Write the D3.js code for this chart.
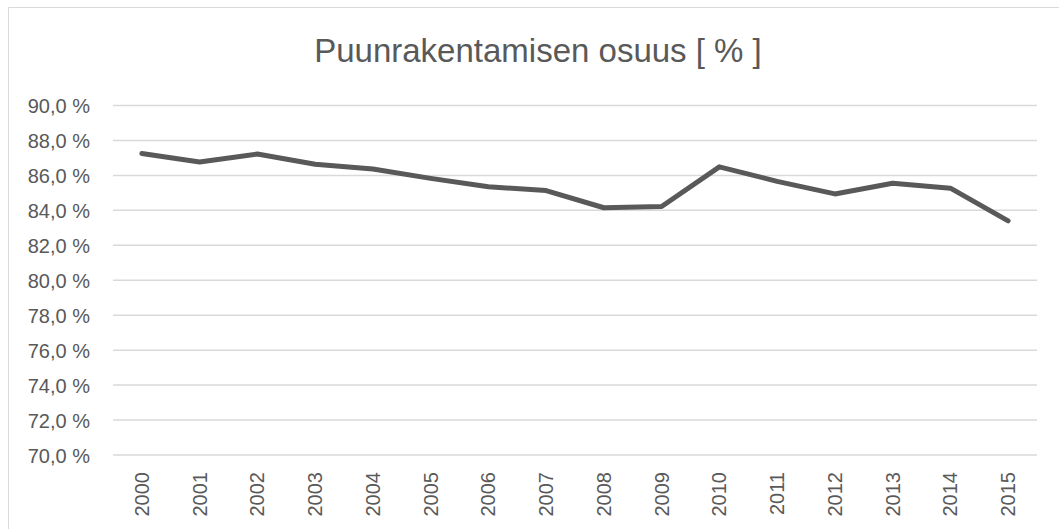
<!DOCTYPE html>
<html><head><meta charset="utf-8">
<script src="https://cdn.jsdelivr.net/npm/d3@7"></script>
<style>body{margin:0;background:#fff;}svg{display:block;}</style>
</head><body>
<script>
const years = ["2000","2001","2002","2003","2004","2005","2006","2007","2008","2009","2010","2011","2012","2013","2014","2015"];
const share = [87.25,86.77,87.22,86.64,86.37,85.83,85.35,85.13,84.15,84.22,86.49,85.66,84.94,85.55,85.27,83.40];
const yTicks = [70,72,74,76,78,80,82,84,86,88,90];
const title = "Puunrakentamisen osuus [ % ]";

const W = 1059, H = 529;
const svg = d3.select("body").append("svg").attr("width", W).attr("height", H);
const font = "'Liberation Sans', Arial, sans-serif";
const txt = "#595959";

// chart area border (left + top visible)
svg.append("path").attr("d", `M8.5,${H} L8.5,7.5 L${W},7.5`).attr("fill","none").attr("stroke","#d9d9d9").attr("stroke-width",1);

const x = d3.scaleBand().domain(years).range([113, 1037]);
const y = d3.scaleLinear().domain([70, 90]).range([455, 105.5]);

// gridlines
svg.append("g").selectAll("line").data(yTicks).join("line")
  .attr("x1", 113).attr("x2", 1037)
  .attr("y1", d => y(d)).attr("y2", d => y(d))
  .attr("stroke", "#d9d9d9").attr("stroke-width", 1.5);

// y axis labels
const yAxis = d3.axisLeft(y).tickValues(yTicks).tickSize(0).tickPadding(0)
  .tickFormat(d => d3.format(".1f")(d).replace(".", ",") + " %");
const gy = svg.append("g").attr("transform", "translate(90,0)").call(yAxis);
gy.select(".domain").remove();
gy.selectAll("text").attr("fill", txt).style("font-family", font).style("font-size", "20px").attr("dy", "0.35em");

// x axis labels
const xAxis = d3.axisBottom(x).tickSize(0).tickPadding(0);
const gx = svg.append("g").attr("transform", "translate(0,472)").call(xAxis);
gx.select(".domain").remove();
gx.selectAll("text").attr("fill", txt).style("font-family", font).style("font-size", "20px")
  .attr("text-anchor", "end").attr("transform", "rotate(-90)").attr("x", 0).attr("y", 0).attr("dy", "0.35em");

// line
const line = d3.line().x((d, i) => x(years[i]) + x.bandwidth() / 2).y(d => y(d));
svg.append("path").datum(share).attr("d", line)
  .attr("fill", "none").attr("stroke", "#595959").attr("stroke-width", 5)
  .attr("stroke-linejoin", "round").attr("stroke-linecap", "round");

// title
svg.append("text").attr("x", 538).attr("y", 62).attr("text-anchor", "middle")
  .attr("fill", txt).style("font-family", font).style("font-size", "33px").text(title);
</script>
</body></html>
